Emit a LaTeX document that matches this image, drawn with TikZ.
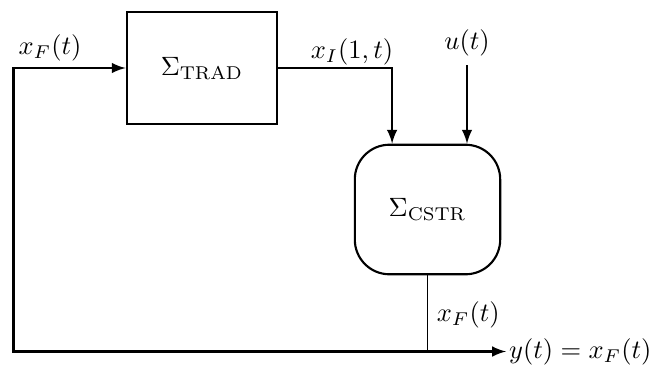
\documentclass[tikz,border=0pt]{standalone}
\usepackage{amsmath}
\usepackage{amssymb}
\usepackage{tikz}

\begin{document}
\begin{tikzpicture}[x=0.01328cm, y=-0.01328cm,
    block/.style={draw, thick, minimum width=2.0cm, minimum height=1.49cm},
    roundblock/.style={draw, thick, rounded corners=0.46cm, minimum width=1.93cm, minimum height=1.72cm},
    sig/.style={thick, line cap=rect, -latex}]

  % Frame of the picture
  \useasboundingbox (0,0) rectangle (649,364);

  % The two blocks
  \node[block] (trad) at (202,68) {$\Sigma_{\mathrm{TRAD}}$};
  \node[roundblock] (cstr) at (427.5,209.5) {$\Sigma_{\mathrm{CSTR}}$};

  % Input and feedback point
  \node (u) at (467,43) {$u(t)$};
  \coordinate (fb) at (13.5,351.5);
  \node[anchor=west, inner sep=1pt] (yout) at (506,351.5) {$y(t) = x_F(t)$};

  % Signals
  \draw[sig] (fb) |- (trad.west);
  \draw[sig] (trad.east) -| ([xshift=-0.47cm]cstr.north);
  \draw[sig] (u) -- (u |- cstr.north);
  \draw (cstr.south) -- (cstr.south |- fb);
  \draw[sig] (fb) -- (yout.west);

  % Labels on the lines
  \node (xf) at (50,48) {$x_F(t)$};
  \node (xi) at (352,52) {$x_I(1,t)$};
  \node[anchor=west] (xfout) at (cstr.south |- 0,315) {$x_F(t)$};

\end{tikzpicture}
\end{document}
